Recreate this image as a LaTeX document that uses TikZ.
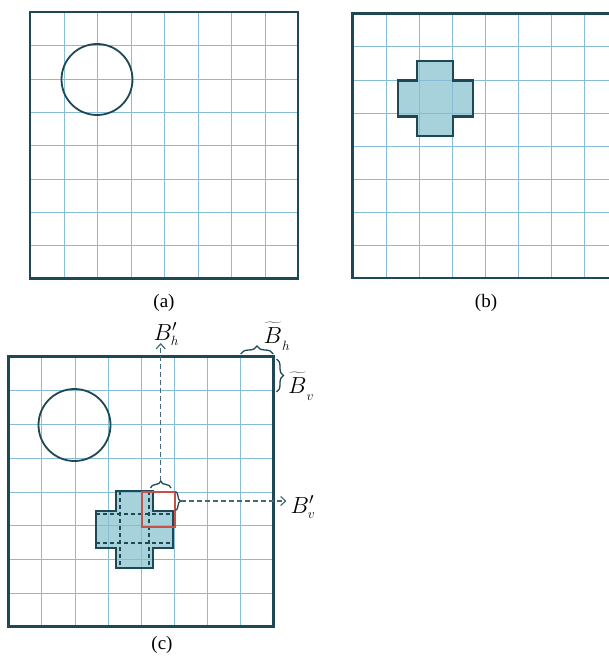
\documentclass[tikz,border=0pt]{standalone}
\usepackage{graphicx}
\usepackage{fontspec}
\setmainfont{Liberation Serif}
\usetikzlibrary{decorations.pathreplacing,arrows.meta}
\definecolor{gridc}{RGB}{135,188,214}
\definecolor{edgec}{RGB}{30,72,84}
\definecolor{fillc}{RGB}{168,210,219}
\definecolor{redc}{RGB}{200,82,72}
\definecolor{dashc}{RGB}{70,105,118}
\tikzset{
  gridline/.style={gridc, line width=1.3pt},
  frame/.style={edgec, line width=2.5pt},
  ring/.style={edgec, line width=1.8pt},
  crossfill/.style={fill=fillc},
  crossedge/.style={draw=edgec, line width=2.2pt, line join=miter},
  innerdash/.style={edgec, line width=1.1pt, dash pattern=on 4pt off 3pt},
  redbox/.style={draw=redc, line width=2pt},
  bracestyle/.style={draw=edgec, line width=1.3pt, decorate, decoration={brace, amplitude=#1}},
  bracestyle/.default=7pt,
  guide/.style={dashc, line width=1.2pt, dash pattern=on 5pt off 3pt, -{Straight Barb[length=5pt,width=9pt]}},
  caption/.style={font=\fontsize{19}{22}\selectfont, inner sep=0pt, anchor=base},
  symlabel/.style={font=\fontsize{20.74}{24}\selectfont, inner sep=0pt, anchor=base west},
}
\newcommand{\biglabel}[1]{\scalebox{1.12}{$#1$}}
\newcommand{\tildeB}{\widetilde{B\vphantom{\big(}}}
% grid lines of a panel: left, top, cell width, cell height (snapped to pixel centres)
\newcommand{\panelgrid}[4]{%
  \foreach \i in {1,...,7} {
    \pgfmathsetmacro{\gx}{round(#1+\i*#3)+0.5}
    \pgfmathsetmacro{\gy}{round(#2+\i*#4)+0.5}
    \draw[gridline] (\gx,#2) -- (\gx,{#2+8*#4});
    \draw[gridline] (#1,\gy) -- ({#1+8*#3},\gy);
  }
  \draw[frame] (#1,#2) rectangle ({#1+8*#3},{#2+8*#4});
}
% cross outline path: centre x, centre y, half arm width, half extent
\newcommand{\crosspath}[4]{%
  ({#1-#3},{#2-#4}) -- ({#1+#3},{#2-#4}) -- ({#1+#3},{#2-#3}) -- ({#1+#4},{#2-#3})
  -- ({#1+#4},{#2+#3}) -- ({#1+#3},{#2+#3}) -- ({#1+#3},{#2+#4}) -- ({#1-#3},{#2+#4})
  -- ({#1-#3},{#2+#3}) -- ({#1-#4},{#2+#3}) -- ({#1-#4},{#2-#3}) -- ({#1-#3},{#2-#3}) -- cycle
}
\begin{document}
\begin{tikzpicture}[x=1pt,y=-1pt]
\useasboundingbox (0,0) rectangle (609,660);
\fill[white] (0,0) rectangle (609,660);
\begin{scope}
\clip (0,0) rectangle (609,660);
% ---------- (a)
\panelgrid{30}{12}{33.5}{33.3}
\draw[ring] (97,79.5) circle (35.5);
% ---------- (b)
\fill[crossfill] \crosspath{435.3}{98.5}{18}{37.5};
\panelgrid{352.7}{13.3}{33.1}{33.1}
\draw[crossedge] \crosspath{435.3}{98.5}{18}{37.5};
% ---------- (c)
\fill[crossfill] \crosspath{134.5}{529.5}{18.3}{38.3};
\panelgrid{8.3}{356.7}{33.125}{33.75}
\draw[innerdash] (120,491.2) -- (120,567.8);
\draw[innerdash] (149,491.2) -- (149,567.8);
\draw[innerdash] (96.2,514) -- (172.8,514);
\draw[innerdash] (96.2,543) -- (172.8,543);
\draw[crossedge] \crosspath{134.5}{529.5}{18.3}{38.3};
\draw[redbox] (141.7,491.7) rectangle (174.8,526.7);
\draw[ring] (74.5,425) circle (36);
\end{scope}
% braces
\draw[bracestyle=7pt] (150.5,488) -- (171,488);
\coordinate (nTip) at (160.7,481);
\draw[bracestyle=5pt] (175.5,491.5) -- (175.5,510.5);
\coordinate (eTip) at (181,501);
\draw[bracestyle=8pt] (240.7,354) -- (273.3,354);
\draw[bracestyle=7pt] (276.5,359) -- (276.5,392);
% labels
\node[symlabel] (Bh) at (153.5,340) {\biglabel{B'_{\scriptscriptstyle h}}};
\node[symlabel] (Bv) at (290.5,513) {\biglabel{B'_{\scriptscriptstyle v}}};
\node[symlabel] (Th) at (263.5,343.5) {\biglabel{\tildeB_{\scriptscriptstyle h}}};
\node[symlabel] (Tv) at (288,393.5) {\biglabel{\tildeB_{\scriptscriptstyle v}}};
% guides
\draw[guide] (nTip) -- ([yshift=-3pt]nTip |- Bh.base);
\draw[guide, shorten >=4pt] (eTip) -- (eTip -| Bv.west);
% captions
\node[caption] (capa) at (164,307) {(a)};
\node[caption] (capb) at (486,307) {(b)};
\node[caption] (capc) at (162,649.5) {(c)};
\end{tikzpicture}
\end{document}
